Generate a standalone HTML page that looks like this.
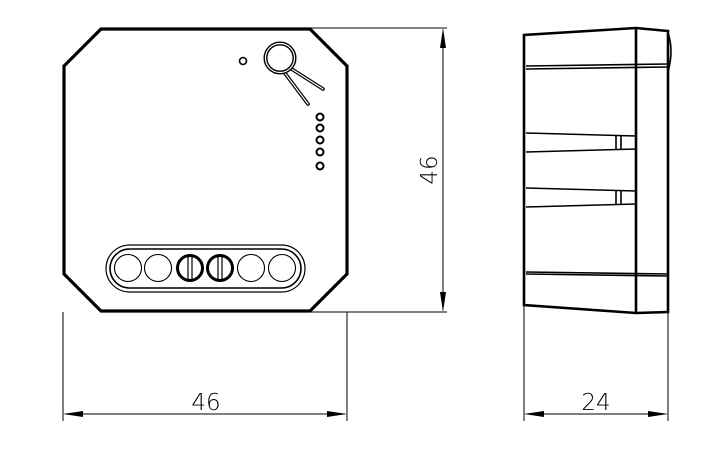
<!DOCTYPE html>
<html><head><style>html,body{margin:0;padding:0;background:#fff}svg{display:block}</style></head><body>
<svg width="720" height="449" viewBox="0 0 720 449" xmlns="http://www.w3.org/2000/svg" fill="none" stroke="#000">
<!-- front view -->
<polygon points="101,29 310,29 347,66 347,274 310,311 101,311 64,274 64,66" stroke-width="3.2"/>
<circle cx="243" cy="61" r="3.5" stroke-width="1.6"/>
<line x1="290" y1="68" x2="323" y2="89" stroke-width="3.6" stroke-linecap="round"/>
<line x1="284" y1="72" x2="308" y2="104" stroke-width="3.6" stroke-linecap="round"/>
<line x1="290" y1="68" x2="323" y2="89" stroke="#fff" stroke-width="1.2" stroke-linecap="round"/>
<line x1="284" y1="72" x2="308" y2="104" stroke="#fff" stroke-width="1.2" stroke-linecap="round"/>
<circle cx="280" cy="58" r="14.5" stroke-width="4" fill="#fff"/>
<circle cx="280" cy="58" r="14.5" stroke="#fff" stroke-width="1.2"/>
<g stroke-width="2"><circle cx="320" cy="117" r="3.5"/><circle cx="320" cy="128" r="3.5"/><circle cx="320" cy="140" r="3.5"/><circle cx="320" cy="152" r="3.5"/><circle cx="320" cy="166" r="3.5"/></g>
<rect x="106" y="245" width="199" height="47" rx="23.5" stroke-width="1.2"/>
<rect x="110" y="249" width="191" height="39" rx="19.5" stroke-width="1.6"/>
<g stroke-width="1.1"><circle cx="128" cy="268" r="13.5"/><circle cx="158" cy="268" r="13.5"/><circle cx="251" cy="268" r="13.5"/><circle cx="282" cy="268" r="13.5"/></g>
<g stroke-width="3"><circle cx="190" cy="268" r="12.5"/><circle cx="220" cy="268" r="12.5"/></g>
<g stroke-width="1.2"><line x1="188" y1="257" x2="188" y2="279"/><line x1="192" y1="257" x2="192" y2="279"/><line x1="218" y1="257" x2="218" y2="279"/><line x1="222" y1="257" x2="222" y2="279"/></g>
<!-- dims -->
<g stroke-width="1">
<line x1="310" y1="28" x2="447" y2="28"/><line x1="310" y1="312" x2="447" y2="312"/>
<line x1="443" y1="30" x2="443" y2="310"/>
<line x1="63" y1="312" x2="63" y2="421"/><line x1="347" y1="312" x2="347" y2="421"/>
<line x1="65" y1="414" x2="345" y2="414"/>
<line x1="524" y1="305" x2="524" y2="421"/><line x1="668" y1="312" x2="668" y2="421"/>
<line x1="526" y1="414" x2="666" y2="414"/>
</g>
<g fill="#000" stroke="none">
<polygon points="443,28 440,48 446,48"/><polygon points="443,312 440,292 446,292"/>
<polygon points="63,414 83,411 83,417"/><polygon points="347,414 327,411 327,417"/>
<polygon points="524,414 544,411 544,417"/><polygon points="668,414 648,411 648,417"/>
</g>
<g fill="#000" stroke="none" font-family="DejaVu Sans, Liberation Sans, sans-serif" font-size="23" font-weight="200" text-anchor="middle">
<text x="206" y="410">46</text>
<text x="596" y="410">24</text>
<text transform="translate(437,170) rotate(-90)">46</text>
</g>
<!-- side view -->
<g stroke-width="2.6">
<polyline points="524,42 524,305 636,313 668,312 668,31 636,28 524,35 524,42"/>
<line x1="636" y1="28" x2="636" y2="313"/>
</g>
<path d="M668,33 Q674,50 668,72" stroke-width="1.6"/>
<g stroke-width="1.6">
<line x1="526" y1="66" x2="668" y2="64"/><line x1="526" y1="69" x2="668" y2="67"/>
<line x1="526" y1="133" x2="636" y2="136"/><line x1="526" y1="152" x2="636" y2="149"/>
<line x1="526" y1="188" x2="636" y2="191"/><line x1="526" y1="207" x2="636" y2="204"/>
<line x1="526" y1="272" x2="668" y2="274"/><line x1="526" y1="274" x2="668" y2="276"/>
<line x1="616" y1="136" x2="616" y2="149"/><line x1="621" y1="136" x2="621" y2="149"/>
<line x1="616" y1="191" x2="616" y2="204"/><line x1="621" y1="191" x2="621" y2="204"/>
</g>
</svg>
</body></html>
